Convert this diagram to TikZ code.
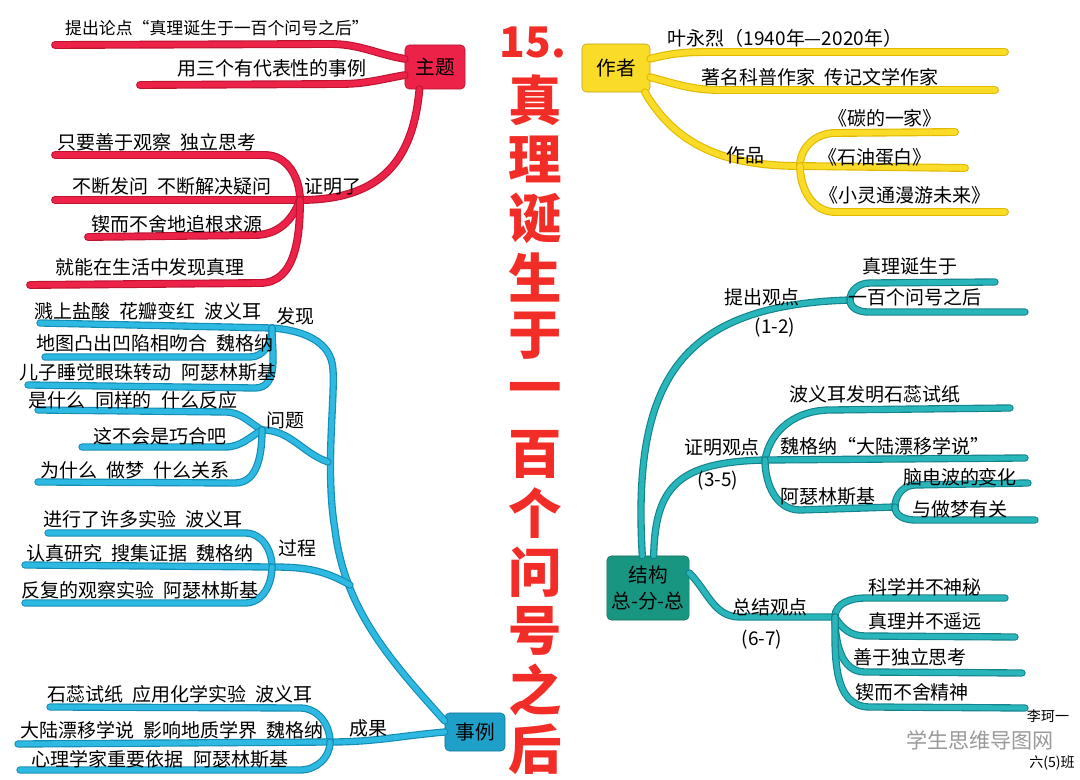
\documentclass[tikz,border=0pt]{standalone}
\usepackage{fontspec}
\usepackage{xcolor}
\usetikzlibrary{positioning}
\newfontfamily\cjk{Noto Sans CJK SC}
\definecolor{zhutired}{RGB}{236,34,72}
\definecolor{zhutidark}{RGB}{190,20,50}
\definecolor{shiliblue}{RGB}{45,185,225}
\definecolor{shilidark}{RGB}{20,140,180}
\definecolor{zuozheyellow}{RGB}{250,220,40}
\definecolor{zuozhedark}{RGB}{225,185,0}
\definecolor{jiegouteal}{RGB}{40,182,186}
\definecolor{jiegoudark}{RGB}{20,130,140}
\definecolor{titlered}{RGB}{242,45,40}
\definecolor{boxblue}{RGB}{30,160,200}
\definecolor{boxteal}{RGB}{25,150,130}

\begin{document}
\begin{tikzpicture}[x=0.025cm, y=0.025cm,
    lab/.style={font=\cjk\fontsize{13.5}{16}\selectfont, inner sep=0pt},
    keybox/.style={draw=#1!75!black, fill=#1, rounded corners=3pt, align=center,
        font=\cjk\fontsize{14}{18}\selectfont},
    ttl/.style={font=\cjk\bfseries\fontsize{38}{38}\selectfont, text=titlered, inner sep=0pt},
    redline/.style={draw=zhutidark, double=zhutired, line width=0.8pt, double distance=4pt, line cap=round},
    blueline/.style={draw=shilidark, double=shiliblue, line width=0.8pt, double distance=3.6pt, line cap=round},
    yellowline/.style={draw=zuozhedark, double=zuozheyellow, line width=0.8pt, double distance=4pt, line cap=round},
    tealline/.style={draw=jiegoudark, double=jiegouteal, line width=0.8pt, double distance=3.6pt, line cap=round}]

    \fill[white] (0,0) rectangle (1080,-780);

    % title
    \node[ttl, font=\cjk\bfseries\fontsize{30}{30}\selectfont] (t0) at (533,-42) {15.};
    \foreach \ch [count=\i] in {真,理,诞,生,于,一,百,个,问,号,之,后}
        \node[ttl] (t\i) at (535,{-100-59*(\i-1)}) {\ch};

    % zhuti (red)
    \node[keybox=zhutired, minimum width=1.5cm, minimum height=1.1cm] (zhuti) at (435,-67) {主题};
    \coordinate (r1) at (55,-45);
    \coordinate (r2) at (140,-85);
    \coordinate (jr) at (300,-200);
    \coordinate (r3) at (55,-155);
    \coordinate (r4) at (55,-200);
    \coordinate (r5) at (88,-237);
    \coordinate (r6) at (30,-285);
    \draw[redline] (zhuti.165) to[out=170,in=0] (330,-44) -- (r1);
    \draw[redline] (zhuti.195) to[out=190,in=0] (340,-84) -- (r2);
    \draw[redline] (zhuti.235) to[out=-95,in=0, looseness=1.2] (jr);
    \draw[redline] (jr) to[out=90,in=0] (265,-155) -- (r3);
    \draw[redline] (jr) -- (r4);
    \draw[redline] (jr) to[out=-110,in=0] (255,-235) -- (r5);
    \draw[redline] (jr) to[out=-90,in=0] (260,-283) -- (r6);

    \node[lab, font=\cjk\fontsize{12}{14}\selectfont] (lr1) at (217,-28) {提出论点“真理诞生于一百个问号之后”};
    \node[lab] (lr2) at (272,-68) {用三个有代表性的事例};
    \node[lab] (lr0) at (333,-187) {证明了};
    \node[lab] (lr3) at (157,-142) {只要善于观察\enspace 独立思考};
    \node[lab] (lr4) at (172,-186) {不断发问\enspace 不断解决疑问};
    \node[lab] (lr5) at (177,-224) {锲而不舍地追根求源};
    \node[lab] (lr6) at (150,-267) {就能在生活中发现真理};

    % shili (blue)
    \node[keybox=boxblue, minimum width=1.5cm, minimum height=0.95cm] (shili) at (475,-732) {事例};
    \coordinate (jfx) at (272,-328);
    \coordinate (jwt) at (262,-430);
    \coordinate (jgc) at (272,-567);
    \coordinate (jcg) at (330,-742);
    \coordinate (bt) at (328,-462);
    \coordinate (bt2) at (350,-585);
    \draw[blueline] (shili.160) .. controls (390,-660) and (345,-610) .. (335,-530)
        .. controls (325,-470) and (335,-400) .. (333,-370)
        .. controls (332,-340) and (300,-330) .. (jfx);
    \draw[blueline] (bt) to[out=160,in=0] (jwt);
    \draw[blueline] (bt2) to[out=150,in=0] (jgc);
    \draw[blueline] (shili.west) to[out=185,in=0] (jcg);
    \foreach \n/\x/\y in {b1/40/323, b2/45/357, b3/28/385, b4/38/410, b5/82/447, b6/38/482,
        b7/48/533, b8/25/565, b9/25/603, b10/50/707, b11/18/744, b12/20/770}
        \coordinate (\n) at (\x,-\y);
    \draw[blueline] (jfx) -- (b1);
    \draw[blueline] (jfx) to[out=-90,in=0] (250,-357) -- (b2);
    \draw[blueline] (jfx) to[out=-90,in=0] (255,-388) -- (b3);
    \draw[blueline] (jwt) to[out=150,in=0] (225,-412) -- (b4);
    \draw[blueline] (jwt) to[out=-150,in=0] (225,-447) -- (b5);
    \draw[blueline] (jwt) to[out=-90,in=0] (235,-483) -- (b6);
    \draw[blueline] (jgc) to[out=90,in=0] (245,-533) -- (b7);
    \draw[blueline] (jgc) -- (b8);
    \draw[blueline] (jgc) to[out=-90,in=0] (245,-603) -- (b9);
    \draw[blueline] (jcg) to[out=90,in=0] (300,-708) -- (b10);
    \draw[blueline] (jcg) -- (b11);
    \draw[blueline] (jcg) to[out=-90,in=0] (300,-770) -- (b12);

    \node[lab] (lb1) at (148,-311) {溅上盐酸\enspace 花瓣变红\enspace 波义耳};
    \node[lab] (lfx) at (295,-316) {发现};
    \node[lab] (lb2) at (155,-343) {地图凸出凹陷相吻合\enspace 魏格纳};
    \node[lab] (lb3) at (148,-372) {儿子睡觉眼珠转动\enspace 阿瑟林斯基};
    \node[lab] (lb4) at (133,-400) {是什么\enspace 同样的\enspace 什么反应};
    \node[lab] (lwt) at (285,-420) {问题};
    \node[lab] (lb5) at (160,-436) {这不会是巧合吧};
    \node[lab] (lb6) at (135,-470) {为什么\enspace 做梦\enspace 什么关系};
    \node[lab] (lb7) at (143,-519) {进行了许多实验\enspace 波义耳};
    \node[lab] (lgc) at (297,-548) {过程};
    \node[lab] (lb8) at (140,-553) {认真研究\enspace 搜集证据\enspace 魏格纳};
    \node[lab] (lb9) at (140,-590) {反复的观察实验\enspace 阿瑟林斯基};
    \node[lab] (lb10) at (180,-694) {石蕊试纸\enspace 应用化学实验\enspace 波义耳};
    \node[lab] (lcg) at (368,-728) {成果};
    \node[lab] (lb11) at (172,-730) {大陆漂移学说\enspace 影响地质学界\enspace 魏格纳};
    \node[lab] (lb12) at (160,-759) {心理学家重要依据\enspace 阿瑟林斯基};

    % zuozhe (yellow)
    \node[keybox=zuozheyellow, minimum width=1.7cm, minimum height=1.2cm] (zuozhe) at (616,-68) {作者};
    \coordinate (y1) at (1005,-52);
    \coordinate (y2) at (995,-90);
    \coordinate (jzp) at (800,-166);
    \coordinate (y3) at (955,-132);
    \coordinate (y4) at (965,-168);
    \coordinate (y5) at (1005,-212);
    \draw[yellowline] (zuozhe.15) to[out=15,in=180] (720,-52) -- (y1);
    \draw[yellowline] (zuozhe.-15) to[out=-15,in=180] (720,-90) -- (y2);
    \draw[yellowline] (zuozhe.-40) to[out=-60,in=180] (jzp);
    \draw[yellowline] (jzp) to[out=90,in=180] (835,-133) -- (y3);
    \draw[yellowline] (jzp) -- (y4);
    \draw[yellowline] (jzp) to[out=-90,in=180] (835,-212) -- (y5);

    \node[lab] (ly1) at (785,-38) {叶永烈（1940年—2020年）};
    \node[lab] (ly2) at (820,-77) {著名科普作家\enspace 传记文学作家};
    \node[lab] (lzp) at (745,-155) {作品};
    \node[lab] (ly3) at (885,-118) {《碳的一家》};
    \node[lab] (ly4) at (875,-157) {《石油蛋白》};
    \node[lab] (ly5) at (905,-195) {《小灵通漫游未来》};

    % jiegou (teal)
    \node[keybox=boxteal, minimum width=1.8cm, minimum height=1.6cm] (jiegou) at (648,-588) {结构\\总-分-总};
    \coordinate (jtc) at (850,-300);
    \coordinate (jzm) at (765,-460);
    \coordinate (jzm2) at (895,-507);
    \coordinate (jzj) at (835,-617);
    \foreach \n/\x/\y in {c1/995/282, c2/1025/312, c3/1010/408, c4/1025/458, c5/1028/483,
        c6/1035/520, c7/1005/598, c8/1015/637, c9/1022/673, c10/1025/708}
        \coordinate (\n) at (\x,-\y);
    \draw[tealline] (jiegou.100) .. controls (632,-380) and (680,-305) .. (jtc);
    \draw[tealline] (jtc) to[out=90,in=180] (870,-283) -- (c1);
    \draw[tealline] (jtc) to[out=-90,in=180] (868,-312) -- (c2);
    \draw[tealline] (jiegou.80) .. controls (655,-485) and (680,-462) .. (jzm);
    \draw[tealline] (jzm) to[out=80,in=180] (830,-410) -- (c3);
    \draw[tealline] (jzm) -- (c4);
    \draw[tealline] (jzm) to[out=-90,in=180] (800,-510) -- (jzm2);
    \draw[tealline] (jzm2) to[out=90,in=180] (915,-485) -- (c5);
    \draw[tealline] (jzm2) to[out=-90,in=180] (915,-520) -- (c6);
    \draw[tealline] (jiegou.20) to[out=-45,in=180] (740,-617) -- (jzj);
    \draw[tealline] (jzj) to[out=90,in=180] (865,-598) -- (c7);
    \draw[tealline] (jzj) to[out=-60,in=180] (865,-636) -- (c8);
    \draw[tealline] (jzj) to[out=-90,in=180] (865,-672) -- (c9);
    \draw[tealline] (jzj) to[out=-90,in=180] (870,-707) -- (c10);

    \node[lab] (lc1) at (910,-266) {真理诞生于};
    \node[lab] (lc2) at (915,-297) {一百个问号之后};
    \node[lab] (ltc) at (762,-297) {提出观点};
    \node[lab] (ltc2) at (775,-328) {(1-2)};
    \node[lab] (lc3) at (875,-394) {波义耳发明石蕊试纸};
    \node[lab] (lzm) at (722,-447) {证明观点};
    \node[lab] (lzm2) at (718,-481) {(3-5)};
    \node[lab] (lc4) at (885,-446) {魏格纳“大陆漂移学说”};
    \node[lab] (lc0) at (828,-496) {阿瑟林斯基};
    \node[lab] (lc5) at (960,-477) {脑电波的变化};
    \node[lab] (lc6) at (960,-509) {与做梦有关};
    \node[lab] (lzj) at (770,-607) {总结观点};
    \node[lab] (lzj2) at (762,-640) {(6-7)};
    \node[lab] (lc7) at (925,-587) {科学并不神秘};
    \node[lab] (lc8) at (925,-621) {真理并不遥远};
    \node[lab] (lc9) at (910,-657) {善于独立思考};
    \node[lab] (lc10) at (912,-692) {锲而不舍精神};

    % signature and mark
    \node[lab, font=\cjk\fontsize{15}{18}\selectfont, text=black!40] (wm) at (980,-740) {学生思维导图网};
    \node[lab, font=\cjk\fontsize{10}{12}\selectfont] (sig1) at (1048,-716) {李珂一};
    \node[lab, font=\cjk\fontsize{10}{12}\selectfont] (sig2) at (1052,-763) {六(5)班};
\end{tikzpicture}
\end{document}
